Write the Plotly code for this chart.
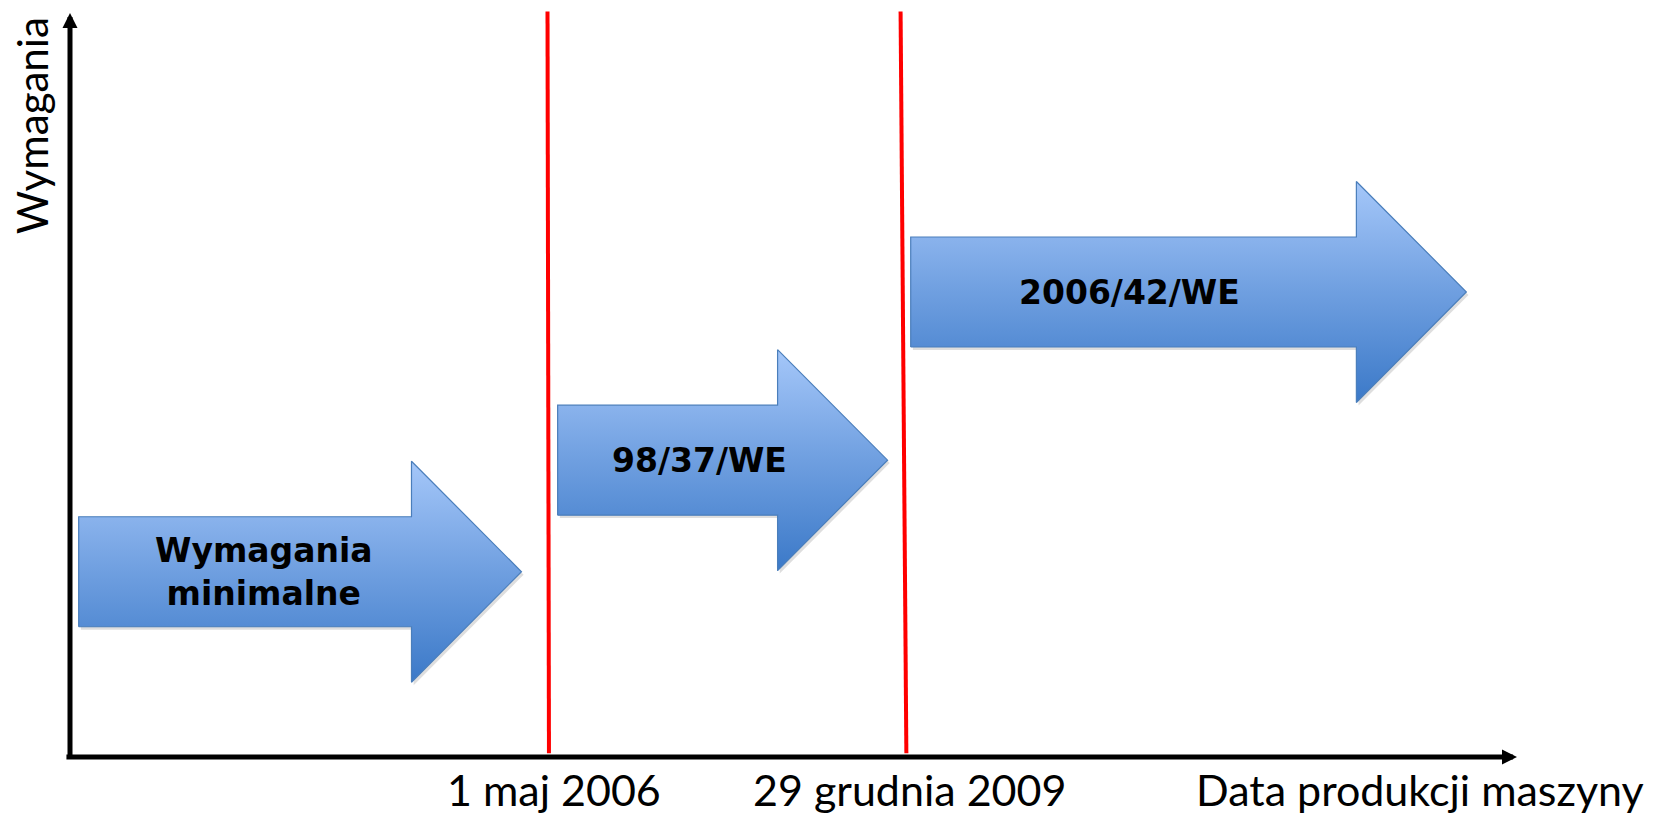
import plotly.graph_objects as go

# ---------------- data ----------------
# regimes (phases) along the "machine production date" axis, x in 0..100 axis units,
# y = requirement level in 0..100 axis units
phase_labels = ["Wymagania<br>minimalne", "98/37/WE", "2006/42/WE"]
phase_start = [0.6, 33.7, 58.1]     # arrow tail
phase_end = [31.2, 56.5, 96.5]      # arrow tip
phase_level = [24.9, 39.9, 62.5]    # requirement level (arrow centre line)
phase_label_x = [13.4, 43.5, 73.2]

# key dates (red separators)
date_labels = ["1 maj 2006", "29 grudnia 2009"]
date_x_bottom = [33.1, 57.8]
date_x_top = [33.0, 57.4]
date_label_x = [33.45, 58.05]

x_title = "Data produkcji maszyny"
y_title = "Wymagania"

# ---------------- styling / geometry ----------------
PAGE_MARGIN = 8                      # default body margin of the html page
W, H = 1657 - PAGE_MARGIN, 817 - PAGE_MARGIN
AX_L, AX_R, AX_B, AX_T = (70 - PAGE_MARGIN, 1517 - PAGE_MARGIN,
                          757 - PAGE_MARGIN, 13 - PAGE_MARGIN)   # axis box (px)
XS = (AX_R - AX_L) / 100.0
YS = (AX_B - AX_T) / 100.0
x_range = [-AX_L / XS, (W - AX_L) / XS]
y_range = [-(H - AX_B) / YS, AX_B / YS]

BODY_HALF = 7.39
HEAD_HALF = 14.85
HEAD_LEN = 7.6

fig = go.Figure()

for s, e, lvl in zip(phase_start, phase_end, phase_level):
    hx = e - HEAD_LEN
    px = [s, hx, hx, e, hx, hx, s, s]
    py = [lvl - BODY_HALF, lvl - BODY_HALF, lvl - HEAD_HALF, lvl,
          lvl + HEAD_HALF, lvl + BODY_HALF, lvl + BODY_HALF, lvl - BODY_HALF]
    # soft shadow
    fig.add_trace(go.Scatter(
        x=[v + 0.15 for v in px], y=[v - 0.4 for v in py],
        mode="lines", fill="toself", fillcolor="rgba(0,0,0,0.13)",
        line=dict(width=0), hoverinfo="skip", showlegend=False))
    fig.add_trace(go.Scatter(
        x=px, y=py, mode="lines", fill="toself",
        fillgradient=dict(type="vertical",
                          colorscale=[[0, "#3B79C8"], [0.5, "#6F9FE0"], [1, "#A5C7F9"]]),
        line=dict(color="#4A7EBB", width=1.2),
        hoverinfo="skip", showlegend=False))

# red date separators
for xb, xt in zip(date_x_bottom, date_x_top):
    fig.add_trace(go.Scatter(
        x=[xb, xt], y=[0.5, 100.2], mode="lines",
        line=dict(color="#FF0000", width=4),
        hoverinfo="skip", showlegend=False))

annotations = []
# axes with arrow heads
annotations.append(dict(x=100, y=0, ax=-0.35, ay=0, xref="x", yref="y",
                        axref="x", ayref="y", showarrow=True, arrowhead=2,
                        arrowsize=0.6, arrowwidth=5, arrowcolor="black",
                        standoff=0, text=""))
annotations.append(dict(x=0, y=100, ax=0, ay=-0.4, xref="x", yref="y",
                        axref="x", ayref="y", showarrow=True, arrowhead=2,
                        arrowsize=0.6, arrowwidth=5, arrowcolor="black",
                        standoff=0, text=""))

# phase labels
for lab, lx, lvl in zip(phase_labels, phase_label_x, phase_level):
    annotations.append(dict(x=lx, y=lvl, xref="x", yref="y", text="<b>" + lab + "</b>",
                            showarrow=False, xanchor="center", yanchor="middle",
                            font=dict(family="DejaVu Sans", size=33, color="black")))

# date labels
for lab, lx in zip(date_labels, date_label_x):
    annotations.append(dict(x=lx, y=-4.4, xref="x", yref="y", text=lab,
                            showarrow=False, xanchor="center", yanchor="middle",
                            font=dict(family="Lato", size=43, color="black")))

annotations.append(dict(x=93.3, y=-4.4, xref="x", yref="y", text=x_title,
                        showarrow=False, xanchor="center", yanchor="middle",
                        font=dict(family="Lato", size=43, color="black")))
annotations.append(dict(x=-2.63, y=84.9, xref="x", yref="y", text=y_title,
                        textangle=-90, showarrow=False, xanchor="center", yanchor="middle",
                        font=dict(family="Lato", size=42, color="black")))

fig.update_layout(
    width=W, height=H, autosize=False,
    margin=dict(l=0, r=0, t=0, b=0, pad=0),
    paper_bgcolor="white", plot_bgcolor="white",
    xaxis=dict(range=x_range, visible=False, fixedrange=True),
    yaxis=dict(range=y_range, visible=False, fixedrange=True),
    annotations=annotations,
    showlegend=False,
)

fig.write_html("out.html", config={"displayModeBar": False})
